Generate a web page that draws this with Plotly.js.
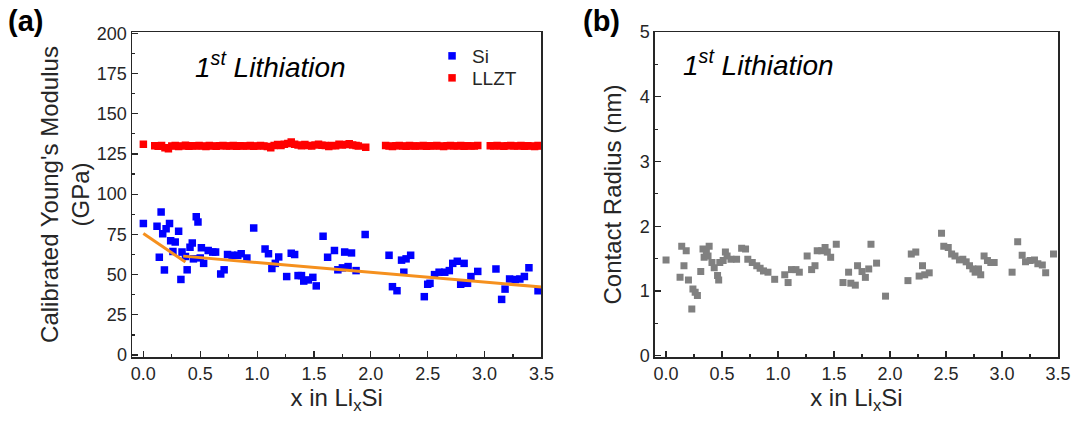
<!DOCTYPE html>
<html>
<head>
<meta charset="utf-8">
<script src="https://cdn.plot.ly/plotly-3.0.1.min.js"></script>
<style>
html,body{margin:0;padding:0;background:#fff;}
#chart{width:1080px;height:426px;}
</style>
</head>
<body>
<div id="chart"></div>
<script>
// ---- Panel (a): Si calibrated Young's modulus ----
const siX = [0.00,0.12,0.14,0.156,0.17,0.185,0.20,0.23,0.24,0.26,0.28,0.31,0.33,0.34,0.37,0.385,0.41,0.43,0.44,0.465,0.48,0.50,0.51,0.53,0.57,0.61,0.635,0.68,0.71,0.74,0.78,0.83,0.86,0.91,0.97,1.07,1.10,1.13,1.16,1.19,1.26,1.30,1.33,1.36,1.39,1.41,1.45,1.49,1.52,1.58,1.62,1.68,1.71,1.75,1.77,1.80,1.83,1.87,1.95,2.16,2.19,2.23,2.27,2.29,2.31,2.35,2.47,2.50,2.52,2.56,2.60,2.65,2.69,2.72,2.76,2.79,2.82,2.85,2.88,2.94,3.10,3.15,3.18,3.22,3.27,3.31,3.35,3.39,3.47];
const siY = [81.7,80,60.8,89,75.4,52.9,78.5,81.7,71,64.4,70.2,77,47,64,61.3,53,67,69.6,59.8,86,82.7,60.4,66.7,57,65,64,64,50.4,53,62.5,62,62,63,60.4,79,66,63,53.8,57,61,48.8,63.3,62.5,49.4,49.4,46,46.7,48.3,43,73.8,60.8,65,53,54.2,64,55,63.5,52.5,75,62,42.5,40,59,51.5,59.8,62,36.3,44,44.6,50,51.5,51.5,52.5,57,58.3,44,57,44.6,48.8,52,53.5,34.6,41,47.3,46.9,47.3,48.8,54.2,40];

// ---- Panel (a): LLZT modulus ----
const llztX = [0.00,
 0.10,0.13,0.16,0.19,0.22,0.25,0.28,0.31,0.34,0.37,0.40,0.43,0.46,0.49,0.52,0.55,0.58,0.61,0.64,0.67,0.70,0.73,0.76,0.79,0.82,0.85,0.88,0.91,0.94,0.97,1.00,1.03,
 1.06,1.09,1.12,1.15,1.18,1.21,1.24,1.27,1.30,1.33,1.36,1.39,1.42,1.45,1.48,1.51,1.54,1.57,1.60,1.63,1.66,1.69,1.72,1.75,1.78,1.81,1.84,1.87,1.89,
 1.955,
 2.13,2.16,2.19,2.22,2.25,2.28,2.31,2.34,2.37,2.39,
 2.43,2.46,2.49,2.52,2.55,2.58,2.61,2.64,2.67,2.70,2.73,2.76,2.79,2.82,2.85,2.88,2.91,2.94,
 3.05,3.08,3.11,3.14,3.17,3.20,3.23,3.26,3.29,3.32,3.35,3.38,3.41,3.44,3.47,3.50];
const llztY = [131.0,
 130.1,129.8,130.3,128.9,128.2,129.9,130.2,129.7,130.0,130.4,129.8,130.1,129.9,130.3,130.0,129.7,130.2,130.0,129.8,130.1,130.3,129.9,130.0,130.2,129.8,130.1,129.9,130.0,130.3,129.8,130.0,130.2,
 130.0,129.6,128.9,130.3,130.8,130.2,131.0,131.5,132.4,131.0,130.5,130.1,130.8,130.3,129.9,130.6,131.0,130.4,130.2,129.6,130.3,130.1,131.0,130.5,130.8,131.3,130.6,130.2,130.0,
 129.2,
 130.2,130.0,129.7,130.1,130.3,129.9,129.8,130.2,130.0,129.9,
 130.0,130.2,129.8,130.1,129.9,130.3,130.0,129.7,130.1,130.2,129.9,130.0,130.3,129.8,130.1,130.0,129.9,130.2,
 130.1,129.9,130.2,130.0,129.8,130.1,130.3,129.9,130.0,130.2,129.8,130.1,130.0,129.7,130.2,129.9];

// ---- Panel (a): linear fits ----
const fit1X = [0.00, 0.37];
const fit1Y = [75.5, 57.8];
const fit2X = [0.35, 3.50];
const fit2Y = [61.5, 42.3];

// ---- Panel (b): contact radius ----
const crX = [0.00,0.125,0.14,0.16,0.18,0.20,0.23,0.24,0.26,0.28,0.31,0.33,0.34,0.36,0.375,0.385,0.41,0.43,0.46,0.47,0.48,0.51,0.53,0.545,0.58,0.63,0.675,0.71,0.73,0.77,0.81,0.84,0.87,0.91,0.97,1.06,1.09,1.12,1.16,1.19,1.26,1.30,1.33,1.35,1.39,1.42,1.44,1.47,1.52,1.58,1.63,1.65,1.69,1.71,1.75,1.78,1.81,1.83,1.88,1.96,2.16,2.19,2.23,2.26,2.29,2.31,2.35,2.46,2.48,2.52,2.55,2.58,2.62,2.65,2.68,2.71,2.74,2.76,2.79,2.81,2.84,2.87,2.90,2.93,3.09,3.14,3.18,3.21,3.25,3.29,3.32,3.36,3.39,3.46];
const crY = [1.48,1.21,1.69,1.39,1.62,1.17,0.72,1.03,0.98,0.93,1.30,1.65,1.52,1.60,1.54,1.69,1.44,1.36,1.24,1.17,1.44,1.47,1.60,1.54,1.49,1.49,1.66,1.65,1.49,1.44,1.39,1.35,1.31,1.29,1.18,1.25,1.13,1.33,1.33,1.29,1.54,1.33,1.39,1.62,1.62,1.67,1.60,1.52,1.72,1.13,1.29,1.12,1.09,1.39,1.30,1.21,1.34,1.72,1.43,0.92,1.16,1.57,1.60,1.23,1.39,1.25,1.28,1.89,1.69,1.67,1.57,1.54,1.48,1.49,1.45,1.39,1.34,1.29,1.34,1.25,1.54,1.47,1.44,1.44,1.29,1.76,1.55,1.45,1.47,1.48,1.42,1.40,1.28,1.57];

// ---- Tick labels ----
const xTickVals = [0, 0.5, 1, 1.5, 2, 2.5, 3, 3.5];
const xTickText = ['0.0','0.5','1.0','1.5','2.0','2.5','3.0','3.5'];
const yTickValsA = [0,25,50,75,100,125,150,175,200];
const yTickValsB = [0,1,2,3,4,5];

const FONT = 'Liberation Sans, Arial, Helvetica, sans-serif';
const INK = '#262626';

const traces = [
  {x: siX, y: siY, type:'scatter', mode:'markers', name:'Si', xaxis:'x', yaxis:'y', legend:'legend',
   marker:{symbol:'square', size:7.5, color:'#0000FF'}},
  {x: llztX, y: llztY, type:'scatter', mode:'markers', name:'LLZT', xaxis:'x', yaxis:'y', legend:'legend2',
   marker:{symbol:'square', size:7.5, color:'#FF0000'}},
  {x: fit1X, y: fit1Y, type:'scatter', mode:'lines', showlegend:false, xaxis:'x', yaxis:'y',
   line:{color:'#F5901E', width:3}},
  {x: fit2X, y: fit2Y, type:'scatter', mode:'lines', showlegend:false, xaxis:'x', yaxis:'y',
   line:{color:'#F5901E', width:3}},
  {x: crX, y: crY, type:'scatter', mode:'markers', showlegend:false, xaxis:'x2', yaxis:'y2',
   marker:{symbol:'square', size:7, color:'#808080'}}
];

const L = 131.7, R = 21.5, W = 1080 - L - R;
const px2x = p => (p - L) / W;
const T = 32, B = 69, H = 426 - T - B;
const py2y = p => (426 - B - p) / H;

function xAxis(domain, anchor){
  return {
    domain: domain, anchor: anchor, range:[-0.1, 3.5],
    tickvals: xTickVals, ticktext: xTickText,
    ticks:'inside', ticklen:6, tickwidth:1.2, tickcolor:INK,
    minor:{dtick:0.25, tick0:0, ticks:'inside', ticklen:3, tickwidth:1.2, tickcolor:INK, showgrid:false},
    showline:true, linecolor:INK, linewidth:1.5, mirror:true,
    showgrid:false, zeroline:false,
    tickfont:{family:FONT, size:18, color:INK},
    title:{text:'x in Li<sub>x</sub>Si', font:{family:FONT, size:24, color:INK}, standoff:6}
  };
}

function legendAt(pyTop){
  return {
    x: px2x(432), y: py2y(pyTop), xanchor:'left', yanchor:'top',
    bgcolor:'rgba(0,0,0,0)', borderwidth:0,
    font:{family:FONT, size:19, color:INK},
    itemwidth:30, tracegroupgap:0
  };
}

const layout = {
  width:1080, height:426,
  margin:{l:L, r:R, t:T, b:B},
  paper_bgcolor:'#ffffff', plot_bgcolor:'#ffffff',
  font:{family:FONT, color:INK},
  xaxis: xAxis([0, px2x(541.5)], 'y'),
  xaxis2: xAxis([px2x(655), 1], 'y2'),
  yaxis: {
    domain:[0,1], anchor:'x', range:[-1.2, 200.8],
    tickvals: yTickValsA,
    ticks:'inside', ticklen:6, tickwidth:1.2, tickcolor:INK,
    minor:{dtick:12.5, tick0:0, ticks:'inside', ticklen:3, tickwidth:1.2, tickcolor:INK, showgrid:false},
    showline:true, linecolor:INK, linewidth:1.5, mirror:true,
    showgrid:false, zeroline:false,
    tickfont:{family:FONT, size:18, color:INK},
    title:{text:"Calibrated Young's Modulus<br>(GPa)", font:{family:FONT, size:24, color:INK}, standoff:0}
  },
  yaxis2: {
    domain:[0,1], anchor:'x2', range:[-0.02, 5.0],
    tickvals: yTickValsB,
    ticks:'inside', ticklen:6, tickwidth:1.2, tickcolor:INK,
    minor:{dtick:0.5, tick0:0, ticks:'inside', ticklen:3, tickwidth:1.2, tickcolor:INK, showgrid:false},
    showline:true, linecolor:INK, linewidth:1.5, mirror:true,
    showgrid:false, zeroline:false,
    tickfont:{family:FONT, size:18, color:INK},
    title:{text:'Contact Radius (nm)', font:{family:FONT, size:24, color:INK}, standoff:11}
  },
  showlegend:true,
  legend: legendAt(37),
  legend2: legendAt(59),
  annotations:[
    {text:'<b>(a)</b>', xref:'paper', yref:'paper', x:px2x(6), y:py2y(21), xanchor:'left', yanchor:'middle',
     showarrow:false, font:{family:FONT, size:29, color:'#000'}},
    {text:'<b>(b)</b>', xref:'paper', yref:'paper', x:px2x(581), y:py2y(21), xanchor:'left', yanchor:'middle',
     showarrow:false, font:{family:FONT, size:29, color:'#000'}},
    {text:'<i>1<sup>st</sup> Lithiation</i>', xref:'paper', yref:'paper', x:px2x(193), y:py2y(65), xanchor:'left', yanchor:'middle',
     showarrow:false, font:{family:FONT, size:28, color:'#000'}},
    {text:'<i>1<sup>st</sup> Lithiation</i>', xref:'paper', yref:'paper', x:px2x(681), y:py2y(63), xanchor:'left', yanchor:'middle',
     showarrow:false, font:{family:FONT, size:28, color:'#000'}}
  ]
};

Plotly.newPlot('chart', traces, layout, {displayModeBar:false, staticPlot:true});
</script>
</body>
</html>
